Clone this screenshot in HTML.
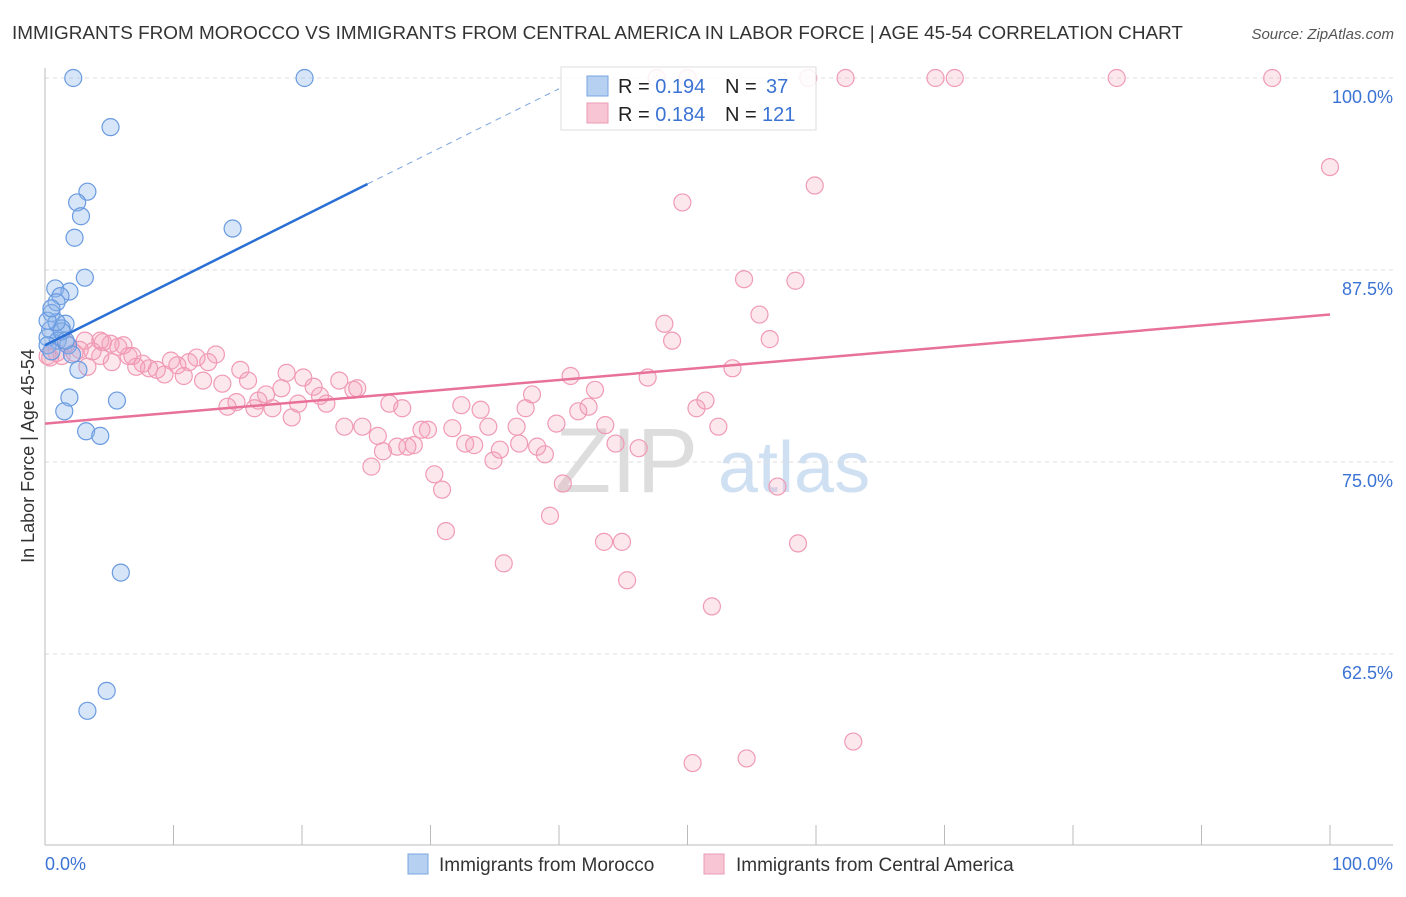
<!DOCTYPE html>
<html><head><meta charset="utf-8"><style>
body{margin:0;background:#fff;font-family:"Liberation Sans",sans-serif;}
svg text{font-family:"Liberation Sans",sans-serif;}
</style></head><body>
<svg id="chart" width="1406" height="892" xmlns="http://www.w3.org/2000/svg">
<text x="12" y="39" font-size="18" fill="#333" textLength="1171" lengthAdjust="spacingAndGlyphs">IMMIGRANTS FROM MOROCCO VS IMMIGRANTS FROM CENTRAL AMERICA IN LABOR FORCE | AGE 45-54 CORRELATION CHART</text>
<text x="1394" y="39" font-size="15" fill="#555" text-anchor="end" font-style="italic">Source: ZipAtlas.com</text>
<g><text x="555" y="492" font-size="92" fill="#ddd" font-family="Liberation Serif,serif">ZIP</text><text x="718" y="492" font-size="72" fill="#cfe0f3">atlas</text></g>
<g id="grid"></g>
<g id="axes"></g>
<g id="pts"></g>
<g id="trend"></g>
<text transform="translate(34,456) rotate(-90)" font-size="18" fill="#333" text-anchor="middle">In Labor Force | Age 45-54</text>
<text x="45" y="870" font-size="18" fill="#3b73d4">0.0%</text>
<text x="1393" y="870" font-size="18" fill="#3b73d4" text-anchor="end">100.0%</text>
<g>
<rect x="561" y="67" width="255" height="63" fill="rgba(255,255,255,0.85)" stroke="#ddd"/>
<rect x="587" y="76" width="21" height="20" fill="#b6d0f2" stroke="#7aa5e0"/>
<rect x="587" y="103" width="21" height="20" fill="#f8c5d4" stroke="#eb9ab3"/>
<text x="618" y="93" font-size="20" fill="#222">R = <tspan fill="#3b73d4">0.194</tspan></text>
<text x="725" y="93" font-size="20" fill="#222">N = </text>
<text x="766" y="93" font-size="20" fill="#3b73d4">37</text>
<text x="618" y="121" font-size="20" fill="#222">R = <tspan fill="#3b73d4">0.184</tspan></text>
<text x="725" y="121" font-size="20" fill="#222">N = </text>
<text x="762" y="121" font-size="20" fill="#3b73d4">121</text>
</g>
<g>
<rect x="408" y="854" width="20" height="20" fill="#b6d0f2" stroke="#7aa5e0"/>
<text x="439" y="871" font-size="19" fill="#333">Immigrants from Morocco</text>
<rect x="704" y="854" width="20" height="20" fill="#f8c5d4" stroke="#eb9ab3"/>
<text x="736" y="871" font-size="19" fill="#333">Immigrants from Central America</text>
</g>
</svg>
<script>
const yTicks=[100,87.5,75,62.5];
const yTickLabels=["100.0%","87.5%","75.0%","62.5%"];
const xTicks=[0,10,20,30,40,50,60,70,80,90,100];
const blueX=[2.2,20.2,5.1,3.3,2.5,2.8,2.3,14.6,3.1,0.8,1.9,1.2,0.9,0.5,1.6,1.3,0.4,0.2,1.0,1.8,2.1,2.6,1.9,1.5,5.6,3.2,4.3,5.9,4.8,3.3,0.2,0.5,1.3,0.9,0.2,0.5,1.6];
const blueY=[100,100,96.8,92.6,91.9,91.0,89.6,90.2,87.0,86.3,86.1,85.8,85.4,84.7,84.0,83.7,83.6,83.1,82.9,82.6,82.0,81.0,79.2,78.3,79.0,77.0,76.7,67.8,60.1,58.8,82.6,82.2,83.5,84.1,84.2,85.0,82.9];
const pinkX=[47.6,50.0,59.4,62.3,69.3,70.8,83.4,95.5,100,59.9,49.6,54.4,58.4,55.6,48.2,48.8,56.4,53.5,46.9,40.9,42.8,37.9,37.4,41.5,42.3,50.7,51.4,52.4,43.6,44.4,46.2,39.8,38.3,38.9,40.3,39.3,43.5,44.9,45.3,35.7,51.9,58.6,57.0,62.9,50.4,54.6,31.2,30.9,30.3,25.4,32.4,33.9,34.5,32.7,33.4,34.9,35.4,36.7,36.9,31.7,29.3,29.8,28.7,28.2,27.4,26.3,25.9,24.7,23.3,26.8,27.8,24.0,24.3,22.9,21.9,21.4,20.9,20.1,18.8,19.7,19.2,18.4,17.7,17.2,16.6,16.3,14.9,14.2,15.8,15.2,13.8,13.3,12.7,11.8,11.2,12.3,10.8,10.3,9.8,9.3,8.7,8.1,7.6,7.1,6.5,6.1,6.8,5.7,5.1,4.5,4.3,3.7,3.1,2.7,2.3,1.7,1.3,0.9,0.4,0.2,3.3,5.2,4.3];
const pinkY=[100,100,100,100,100,100,100,100,94.2,93.0,91.9,86.9,86.8,84.6,84.0,82.9,83.0,81.1,80.5,80.6,79.7,79.4,78.5,78.3,78.6,78.5,79.0,77.3,77.4,76.2,75.9,77.5,76.0,75.5,73.6,71.5,69.8,69.8,67.3,68.4,65.6,69.7,73.4,56.8,55.4,55.7,70.5,73.2,74.2,74.7,78.7,78.4,77.3,76.2,76.1,75.1,75.8,77.3,76.2,77.2,77.1,77.1,76.1,76.0,76.0,75.7,76.7,77.3,77.3,78.8,78.5,79.7,79.8,80.3,78.8,79.3,79.9,80.5,80.8,78.8,77.9,79.8,78.5,79.4,79.0,78.5,78.9,78.6,80.3,81.0,80.1,82.0,81.5,81.8,81.5,80.3,80.6,81.3,81.6,80.7,81.0,81.1,81.4,81.2,81.9,82.6,81.9,82.5,82.7,82.8,81.9,82.2,82.9,82.3,82.1,82.7,81.9,82.1,81.8,81.9,81.2,81.5,82.9];
const blueTrend=[[0,82.6],[25.1,93.1]];
const blueTrendDash=[[25.1,93.1],[40,99.3]];
const pinkTrend=[[0,77.5],[100,84.6]];
const NS="http://www.w3.org/2000/svg";
const sx=v=>45+v*12.85;
const sy=v=>78+(100-v)*15.36;
function mk(t,a,p){const e=document.createElementNS(NS,t);for(const k in a)e.setAttribute(k,a[k]);p.appendChild(e);return e;}
const grid=document.getElementById('grid'),axes=document.getElementById('axes'),pts=document.getElementById('pts'),tr=document.getElementById('trend');
yTicks.forEach((t,i)=>{
 const l=mk('line',{x1:45,x2:1393,y1:sy(t),y2:sy(t),stroke:'#ddd','stroke-dasharray':'4,4'},grid);
 
 
 const tx=mk('text',{x:1393,y:sy(t)+25,'font-size':18,fill:'#3b73d4','text-anchor':'end'},grid);
 tx.textContent=yTickLabels[i];
 
 
});
mk('line',{x1:45,x2:45,y1:68,y2:845,stroke:'#bbb'},axes);
mk('line',{x1:45,x2:1393,y1:845,y2:845,stroke:'#bbb'},axes);
xTicks.forEach(t=>{
 const l=mk('line',{x1:sx(t),x2:sx(t),y1:825,y2:845,stroke:'#bbb'},axes);
 
 
});
pinkX.forEach((x,i)=>{
 const c=mk('circle',{cx:sx(x),cy:sy(pinkY[i]),r:8.5,fill:'rgba(245,160,185,0.25)',stroke:'#f09ab6','stroke-width':1.2},pts);
 
 
});
blueX.forEach((x,i)=>{
 const c=mk('circle',{cx:sx(x),cy:sy(blueY[i]),r:8.5,fill:'rgba(140,180,235,0.35)',stroke:'#6a9be0','stroke-width':1.2},pts);
 
 
});
const l1=mk('line',{x1:sx(blueTrend[0][0]),y1:sy(blueTrend[0][1]),x2:sx(blueTrend[1][0]),y2:sy(blueTrend[1][1]),stroke:'#2a6fd6','stroke-width':2.5},tr);


const l2=mk('line',{x1:sx(blueTrendDash[0][0]),y1:sy(blueTrendDash[0][1]),x2:sx(blueTrendDash[1][0]),y2:sy(blueTrendDash[1][1]),stroke:'#7aa5e0','stroke-width':1,'stroke-dasharray':'6,5'},tr);


const l3=mk('line',{x1:sx(pinkTrend[0][0]),y1:sy(pinkTrend[0][1]),x2:sx(pinkTrend[1][0]),y2:sy(pinkTrend[1][1]),stroke:'#e8719a','stroke-width':2.5},tr);


</script>
</body></html>
